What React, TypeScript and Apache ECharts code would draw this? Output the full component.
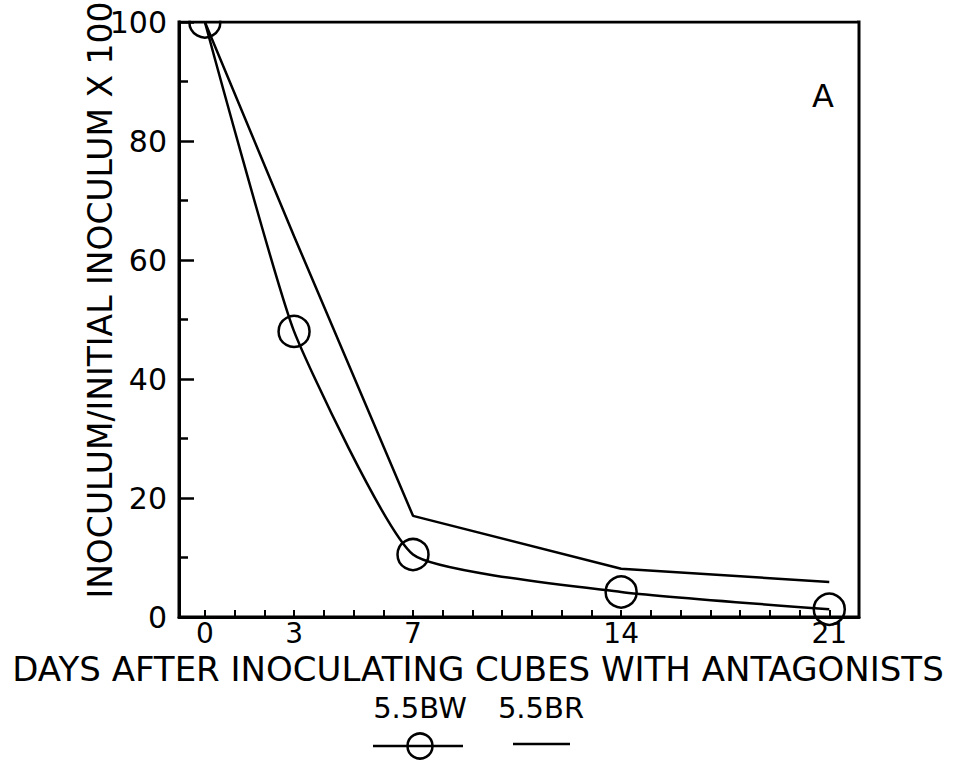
import React, { useEffect, useRef } from "react";
import * as echarts from "echarts";

const xTickLabels = [0, 3, 7, 14, 21];
const xMinorTicks = [0, 1, 2, 3, 4, 5, 6, 7, 8, 9, 10, 11, 12, 13, 14, 15, 16, 17, 18, 19, 20, 21];
const days = [0, 3, 7, 14, 21];
const bwValues = [100, 48, 10.5, 4.2, 1.3];
const brValues = [100, 64, 17, 8.1, 5.9];
const seriesNames = ["5.5BW", "5.5BR"];

const FONT = "DejaVu Sans";

export default function App() {
  const ref = useRef<HTMLDivElement>(null);
  useEffect(() => {
    if (!ref.current) return;
    const chart = echarts.init(ref.current, undefined, { renderer: "svg" });
    const option = {
      animation: false,
      backgroundColor: "#fff",
      grid: {
        left: 179,
        right: 98,
        top: 22,
        bottom: 149,
        show: true,
        borderColor: "#000",
        borderWidth: 3,
        backgroundColor: "transparent",
      },
      xAxis: {
        type: "value",
        min: -0.87,
        max: 22,
        splitLine: { show: false },
        axisLine: { show: true, onZero: false, lineStyle: { color: "#000", width: 3 } },
        axisTick: {
          show: true,
          inside: true,
          length: 7,
          customValues: xMinorTicks,
          lineStyle: { color: "#000", width: 2 },
        },
        axisLabel: {
          customValues: xTickLabels,
          fontFamily: FONT,
          fontSize: 28,
          lineHeight: 26,
          color: "#000",
          margin: 3,
        },
      },
      yAxis: {
        type: "value",
        min: 0,
        max: 100,
        interval: 20,
        splitLine: { show: false },
        axisLine: { show: true, onZero: false, lineStyle: { color: "#000", width: 3 } },
        axisTick: { show: true, inside: true, length: 15, lineStyle: { color: "#000", width: 2.5 } },
        minorTick: { show: true, splitNumber: 2, length: 9, lineStyle: { color: "#000", width: 2.5 } },
        axisLabel: { fontFamily: FONT, fontSize: 30, color: "#000", margin: 12 },
      },
      series: [
        {
          name: seriesNames[0],
          type: "line",
          data: days.map((d, i) => [d, bwValues[i]]),
          smooth: 0.15,
          symbol: "circle",
          symbolSize: 31,
          lineStyle: { color: "#000", width: 2.5 },
          itemStyle: { color: "transparent", borderColor: "#000", borderWidth: 2.5 },
          z: 3,
        },
        {
          name: seriesNames[1],
          type: "line",
          data: days.map((d, i) => [d, brValues[i]]),
          symbol: "none",
          lineStyle: { color: "#000", width: 2.5 },
          z: 2,
        },
      ],
      graphic: [
        {
          type: "rect",
          shape: { x: 181, y: 0, width: 676, height: 20.5 },
          style: { fill: "#fff" },
          z: 1000,
        },
        {
          type: "text",
          x: 823,
          y: 96,
          style: { text: "A", fontFamily: FONT, fontSize: 32, fill: "#000", align: "center", verticalAlign: "middle" },
        },
        {
          type: "text",
          x: 478,
          y: 669,
          style: {
            text: "DAYS AFTER INOCULATING CUBES WITH ANTAGONISTS",
            fontFamily: FONT,
            fontSize: 34,
            lineHeight: 26,
            fill: "#000",
            align: "center",
            verticalAlign: "middle",
          },
        },
        {
          type: "text",
          x: 100,
          y: 300,
          rotation: Math.PI / 2,
          style: {
            text: "INOCULUM/INITIAL INOCULUM X 100",
            fontFamily: FONT,
            fontSize: 33,
            lineHeight: 28,
            fill: "#000",
            align: "center",
            verticalAlign: "middle",
          },
        },
        {
          type: "text",
          x: 420,
          y: 708,
          style: { text: seriesNames[0], fontFamily: FONT, fontSize: 29, fill: "#000", align: "center", verticalAlign: "middle" },
        },
        {
          type: "text",
          x: 541,
          y: 708,
          style: { text: seriesNames[1], fontFamily: FONT, fontSize: 29, fill: "#000", align: "center", verticalAlign: "middle" },
        },
        {
          type: "line",
          shape: { x1: 373, y1: 746, x2: 463, y2: 746 },
          style: { stroke: "#000", lineWidth: 2.5 },
        },
        {
          type: "circle",
          shape: { cx: 420, cy: 746, r: 12.5 },
          style: { fill: "transparent", stroke: "#000", lineWidth: 2.5 },
        },
        {
          type: "line",
          shape: { x1: 513, y1: 744, x2: 570, y2: 744 },
          style: { stroke: "#000", lineWidth: 2.5 },
        },
      ],
    };
    chart.setOption(option as any);
    return () => chart.dispose();
  }, []);
  return <div ref={ref} style={{ position: "fixed", left: 0, top: 0, width: 957, height: 766 }} />;
}
